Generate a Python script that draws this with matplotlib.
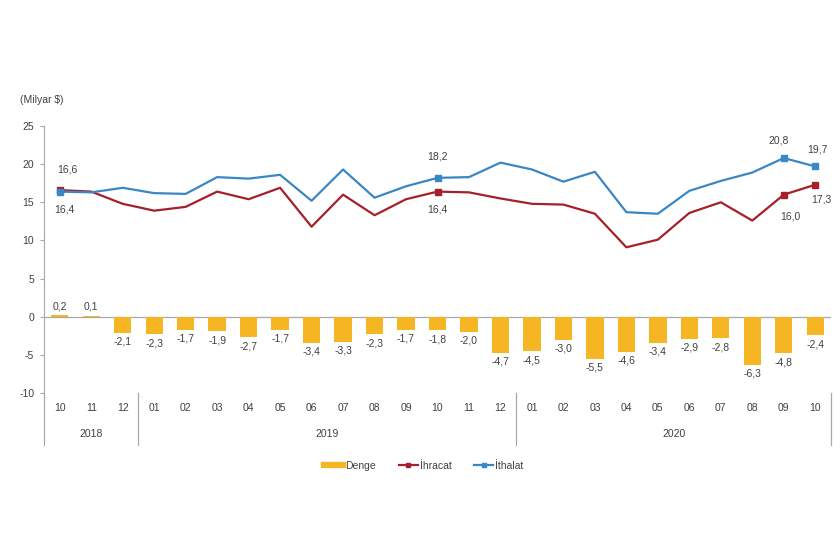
import matplotlib.pyplot as plt
import matplotlib.transforms as mtransforms
from matplotlib.lines import Line2D

# ── Data ─────────────────────────────────────────────────────────
months = ["10", "11", "12", "01", "02", "03", "04", "05", "06", "07", "08", "09",
          "10", "11", "12", "01", "02", "03", "04", "05", "06", "07", "08", "09", "10"]
years = ["2018", "2019", "2020"]
year_spans = [(0, 2), (3, 14), (15, 24)]

denge = [0.2, 0.1, -2.1, -2.3, -1.7, -1.9, -2.7, -1.7, -3.4, -3.3, -2.3, -1.7,
         -1.8, -2.0, -4.7, -4.5, -3.0, -5.5, -4.6, -3.4, -2.9, -2.8, -6.3, -4.8, -2.4]
ihracat = [16.6, 16.4, 14.8, 13.9, 14.4, 16.4, 15.4, 16.9, 11.8, 16.0, 13.3, 15.4,
           16.4, 16.3, 15.5, 14.8, 14.7, 13.5, 9.1, 10.1, 13.6, 15.0, 12.6, 16.0, 17.3]
ithalat = [16.4, 16.3, 16.9, 16.2, 16.1, 18.3, 18.1, 18.6, 15.2, 19.3, 15.6, 17.1,
           18.2, 18.3, 20.2, 19.3, 17.7, 19.0, 13.7, 13.5, 16.5, 17.8, 18.9, 20.8, 19.7]
marked = [0, 12, 23, 24]

# ── Style ────────────────────────────────────────────────────────
BAR_C = "#F6B623"
RED = "#A6202C"
BLUE = "#3A87C6"
GREY = "#A8A8A8"
TXT = "#404040"
FS = 7.5
plt.rcParams["font.family"] = ["Liberation Sans", "DejaVu Sans"]
plt.rcParams["axes.unicode_minus"] = False


def fmt(v):
    return f"{v:.1f}".replace(".", ",")


fig = plt.figure(figsize=(8.4, 5.6), dpi=100)
ax = fig.add_axes([44 / 840, 1 - 393 / 560, 787 / 840, 267 / 560])

x = list(range(len(months)))
ax.bar(x, denge, width=0.55, color=BAR_C, zorder=2)
ax.plot(x, ihracat, color=RED, lw=1.6, zorder=3)
ax.plot(x, ithalat, color=BLUE, lw=1.6, zorder=3)
ax.plot([x[i] for i in marked], [ihracat[i] for i in marked], ls="none",
        marker="s", ms=4, color=RED, zorder=4)
ax.plot([x[i] for i in marked], [ithalat[i] for i in marked], ls="none",
        marker="s", ms=4, color=BLUE, zorder=4)
ax.axhline(0, color=GREY, lw=0.9, zorder=1)

ax.set_xlim(-0.5, len(months) - 0.5)
ax.set_ylim(-10, 25)
ax.set_yticks(range(-10, 26, 5))
ax.tick_params(axis="y", length=3, color=GREY, labelsize=FS, labelcolor=TXT, pad=4)
ax.set_xticks([])
for s in ["top", "right", "bottom"]:
    ax.spines[s].set_visible(False)
ax.spines["left"].set_color(GREY)

# bar labels
for xi, v in zip(x, denge):
    if v >= 0:
        ax.annotate(fmt(v), (xi, v), xytext=(0, 4), textcoords="offset pixels",
                    ha="center", va="bottom", fontsize=FS, color=TXT)
    else:
        ax.annotate(fmt(v), (xi, v), xytext=(0, -4), textcoords="offset pixels",
                    ha="center", va="top", fontsize=FS, color=TXT)

# line labels (offsets in pixels)
red_off = {0: (8, 21), 12: (0, -18), 23: (7, -22), 24: (6, -15)}
blue_off = {0: (5, -18), 12: (0, 21), 23: (-5, 18), 24: (2, 17)}
for i in marked:
    ax.annotate(fmt(ihracat[i]), (i, ihracat[i]), xytext=red_off[i],
                textcoords="offset pixels", ha="center", va="center",
                fontsize=FS, color=TXT)
    ax.annotate(fmt(ithalat[i]), (i, ithalat[i]), xytext=blue_off[i],
                textcoords="offset pixels", ha="center", va="center",
                fontsize=FS, color=TXT)

# category axis below plot
trans = mtransforms.blended_transform_factory(ax.transData, ax.transAxes)
px = 1 / 267  # one pixel in axes fraction (vertical)
for xi, m in zip(x, months):
    ax.text(xi, -15 * px, m, transform=trans, ha="center", va="center",
            fontsize=FS, color=TXT)
for (a, b), yr in zip(year_spans, years):
    ax.text((a + b) / 2, -41 * px, yr, transform=trans, ha="center", va="center",
            fontsize=FS, color=TXT)
for sep in [-0.5, 2.5, 14.5, 24.5]:
    ax.plot([sep, sep], [0, -52 * px], transform=trans, color=GREY, lw=0.9,
            clip_on=False)

fig.text(42 / 840, 1 - 100 / 560, "(Milyar $)", ha="center", va="center",
         fontsize=FS, color=TXT)

handles = [
    Line2D([0], [0], color=BAR_C, lw=4.5),
    Line2D([0], [0], color=RED, lw=1.6, marker="s", ms=3),
    Line2D([0], [0], color=BLUE, lw=1.6, marker="s", ms=3),
]
leg = fig.legend(handles, ["Denge", "İhracat", "İthalat"], loc="center",
                 bbox_to_anchor=(424 / 840, 1 - 466 / 560), ncol=3, frameon=False,
                 fontsize=FS, handlelength=1.8, handletextpad=0.2, columnspacing=2.2)
for t in leg.get_texts():
    t.set_color(TXT)

fig.savefig("out.png", dpi=100, facecolor="white")
